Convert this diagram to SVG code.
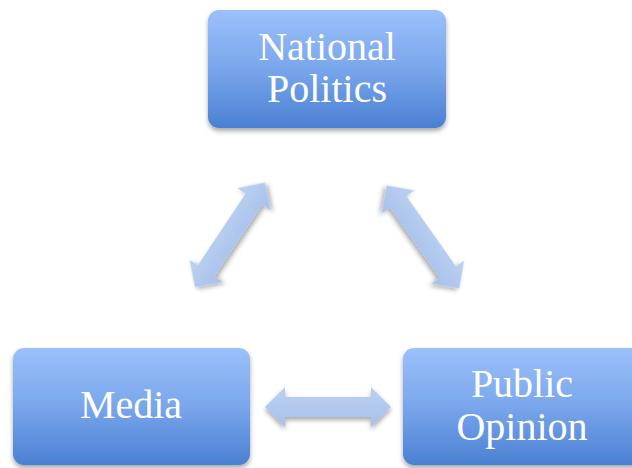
<svg xmlns="http://www.w3.org/2000/svg" width="632" height="468" viewBox="0 0 632 468">
<defs>
<linearGradient id="boxg" x1="0" y1="0" x2="0" y2="1">
<stop offset="0" stop-color="#9cc0fa"/>
<stop offset="0.5" stop-color="#79a6ec"/>
<stop offset="1" stop-color="#4a80d2"/>
</linearGradient>
<linearGradient id="arrg" x1="0" y1="0" x2="0" y2="1">
<stop offset="0" stop-color="#bdd2f2"/>
<stop offset="1" stop-color="#a6c0ea"/>
</linearGradient>
<filter id="sh" x="-20%" y="-20%" width="140%" height="150%">
<feGaussianBlur in="SourceAlpha" stdDeviation="2.5"/>
<feOffset dx="0" dy="3" result="b"/>
<feComponentTransfer><feFuncA type="linear" slope="0.35"/></feComponentTransfer>
<feMerge><feMergeNode/><feMergeNode in="SourceGraphic"/></feMerge>
</filter>
<path id="arrow" d="M -63 0 L -43 -20 L -43 -10 L 43 -10 L 43 -20 L 63 0 L 43 20 L 43 10 L -43 10 L -43 20 Z"/>
</defs>
<style>
.box{fill:url(#boxg);filter:url(#sh)}
.lbl{font-family:"Liberation Serif","DejaVu Serif",serif;font-size:40px;fill:#ffffff;text-anchor:middle}
.arr{fill:url(#arrg);filter:url(#sh)}
</style>
<rect width="632" height="468" fill="#ffffff"/>
<g id="connectors">
<use href="#arrow" class="arr" transform="translate(230,235) rotate(-56.3)"/>
<use href="#arrow" class="arr" transform="translate(423,237) rotate(54.8)"/>
<use href="#arrow" class="arr" transform="translate(328,407)"/>
</g>
<g id="national-politics">
<rect class="box" x="208" y="10" width="238" height="118" rx="11"/>
<text class="lbl" x="327" y="60">National</text>
<text class="lbl" x="327" y="102">Politics</text>
</g>
<g id="media">
<rect class="box" x="13" y="348" width="237" height="117" rx="11"/>
<text class="lbl" x="131" y="418">Media</text>
</g>
<g id="public-opinion">
<rect class="box" x="403" y="348" width="240" height="117" rx="11"/>
<text class="lbl" x="522" y="397">Public</text>
<text class="lbl" x="522" y="440">Opinion</text>
</g>
</svg>
